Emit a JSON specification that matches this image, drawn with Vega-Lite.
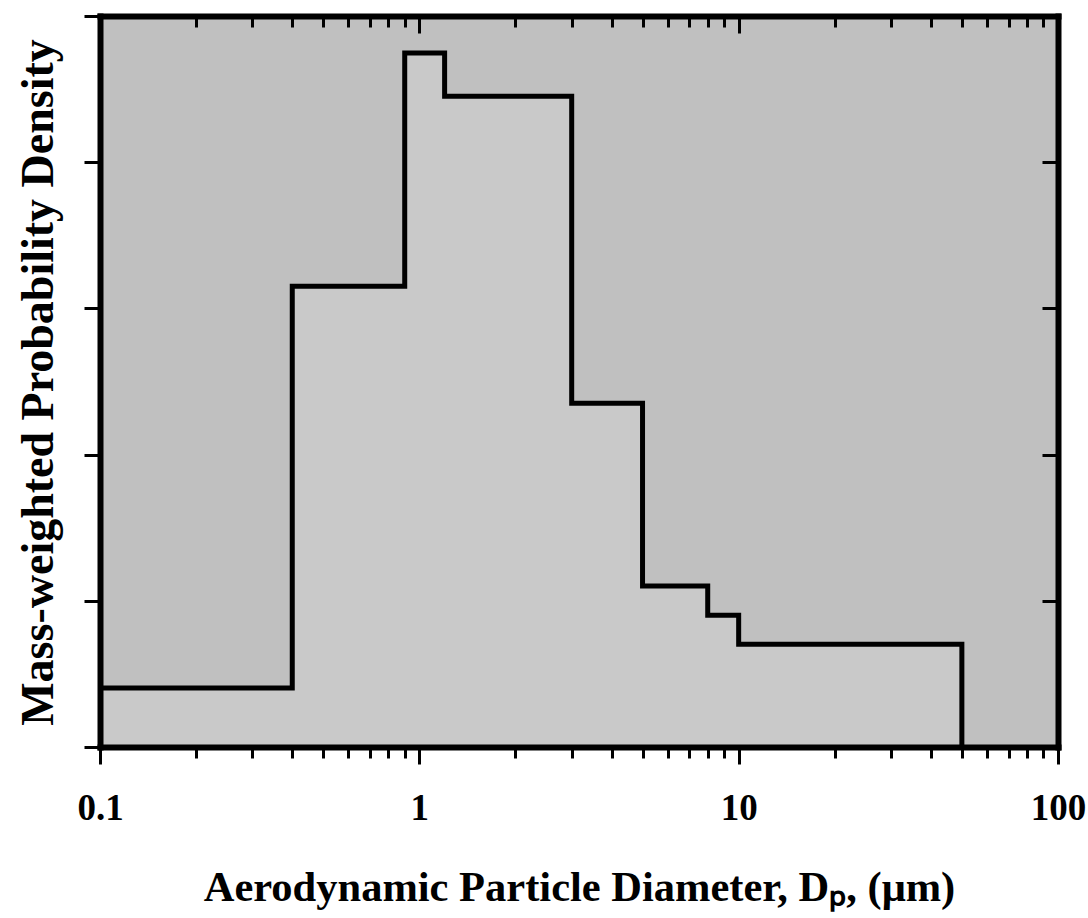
{
  "$schema": "https://vega.github.io/schema/vega-lite/v6.json",
  "width": 958,
  "height": 731,
  "autosize": "none",
  "padding": {"left": 100, "top": 16, "right": 30, "bottom": 171},
  "background": "white",
  "config": {
    "view": {"stroke": null, "fill": "#c0c0c0"},
    "font": "Liberation Serif"
  },
  "data": {
    "values": [
      {"d": 0.1, "p": 0.403},
      {"d": 0.4, "p": 3.151},
      {"d": 0.9, "p": 4.747},
      {"d": 1.2, "p": 4.451},
      {"d": 3.0, "p": 2.351},
      {"d": 5.0, "p": 1.102},
      {"d": 8.0, "p": 0.902},
      {"d": 10.0, "p": 0.703},
      {"d": 50.0, "p": 0.0}
    ]
  },
  "resolve": {"axis": {"x": "independent", "y": "independent"}},
  "layer": [
    {
      "mark": {"type": "area", "interpolate": "step-after", "color": "#c9c9c9"},
      "encoding": {
        "x": {
          "field": "d", "type": "quantitative",
          "scale": {"type": "log", "domain": [0.1, 100], "nice": false},
          "axis": {
            "orient": "bottom",
            "values": [0.1,0.2,0.3,0.4,0.5,0.6,0.7,0.8,0.9,1,2,3,4,5,6,7,8,9,10,20,30,40,50,60,70,80,90,100],
            "tickSize": {"condition": {"test": "indexof([0.1,1,10,100], datum.value) >= 0", "value": 17}, "value": 11},
            "tickWidth": 3, "tickColor": "black",
            "domain": true, "domainWidth": 6, "domainColor": "black", "domainCap": "square",
            "labelExpr": "indexof([0.1,1,10,100], datum.value) >= 0 ? datum.value + '' : ''",
            "labelFont": "Liberation Serif", "labelFontWeight": "bold", "labelFontSize": 37,
            "labelColor": "black", "labelOverlap": false, "labelFlush": false,
            "labelBaseline": "alphabetic", "labelPadding": 55,
            "grid": false, "zindex": 2,
            "title": "Aerodynamic Particle Diameter, Dₚ, (μm)",
            "titleFont": "Liberation Serif", "titleFontWeight": "bold", "titleFontSize": 42.5,
            "titleColor": "black", "titleBaseline": "alphabetic", "titleY": 153
          }
        },
        "y": {
          "field": "p", "type": "quantitative",
          "scale": {"domain": [0, 5], "nice": false},
          "axis": {
            "orient": "left",
            "values": [0, 1, 2, 3, 4, 5],
            "tickSize": 16, "tickWidth": 3, "tickColor": "black",
            "domain": true, "domainWidth": 6, "domainColor": "black", "domainCap": "square",
            "labels": false, "grid": false, "zindex": 2,
            "title": "Mass-weighted Probability Density",
            "titleFont": "Liberation Serif", "titleFontWeight": "bold", "titleFontSize": 46,
            "titleColor": "black", "titleBaseline": "alphabetic", "titleAngle": -90,
            "titleX": -48, "titleY": 366
          }
        }
      }
    },
    {
      "mark": {"type": "line", "interpolate": "step-after", "color": "black", "strokeWidth": 5, "strokeJoin": "miter"},
      "encoding": {
        "x": {
          "field": "d", "type": "quantitative",
          "scale": {"type": "log", "domain": [0.1, 100], "nice": false},
          "axis": {
            "orient": "top",
            "values": [0.1,0.2,0.3,0.4,0.5,0.6,0.7,0.8,0.9,1,2,3,4,5,6,7,8,9,10,20,30,40,50,60,70,80,90,100],
            "tickSize": {"condition": {"test": "indexof([0.1,1,10,100], datum.value) >= 0", "value": -17}, "value": -11},
            "tickWidth": 3, "tickColor": "black",
            "domain": true, "domainWidth": 6, "domainColor": "black", "domainCap": "square",
            "labels": false, "grid": false, "title": null, "zindex": 2
          }
        },
        "y": {
          "field": "p", "type": "quantitative",
          "scale": {"domain": [0, 5], "nice": false},
          "axis": {
            "orient": "right",
            "values": [0, 1, 2, 3, 4, 5],
            "tickSize": -16, "tickWidth": 3, "tickColor": "black",
            "domain": true, "domainWidth": 6, "domainColor": "black", "domainCap": "square",
            "labels": false, "grid": false, "title": null, "zindex": 2
          }
        }
      }
    }
  ]
}
